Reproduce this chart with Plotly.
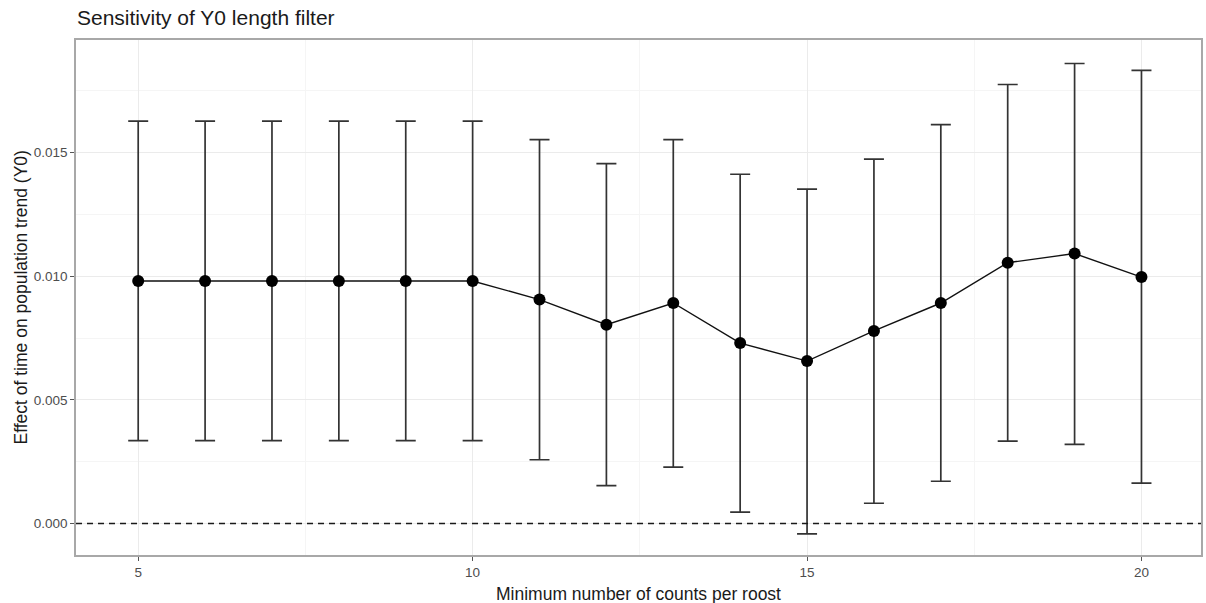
import plotly.graph_objects as go

min_counts = [5, 6, 7, 8, 9, 10, 11, 12, 13, 14, 15, 16, 17, 18, 19, 20]
estimate = [0.00981, 0.00981, 0.00981, 0.00981, 0.00981, 0.00981, 0.00906, 0.00804,
            0.00892, 0.00730, 0.00657, 0.00779, 0.00892, 0.01055, 0.01092, 0.00997]
upper = [0.01628, 0.01628, 0.01628, 0.01628, 0.01628, 0.01628, 0.01553, 0.01456,
         0.01553, 0.01413, 0.01353, 0.01474, 0.01614, 0.01776, 0.01861, 0.01833]
lower = [0.00335, 0.00335, 0.00335, 0.00335, 0.00335, 0.00335, 0.00258, 0.00153,
         0.00228, 0.00046, -0.00042, 0.00082, 0.00171, 0.00333, 0.00320, 0.00163]

err_plus = [u - e for u, e in zip(upper, estimate)]
err_minus = [e - l for e, l in zip(estimate, lower)]

FONT = "Liberation Sans, Arial, sans-serif"

fig = go.Figure()
fig.add_hline(y=0, line=dict(color="#1a1a1a", width=1.6, dash="6px,5px"), layer="above")
fig.add_trace(go.Scatter(
    x=min_counts, y=estimate,
    mode="lines+markers",
    line=dict(color="#111111", width=1.4),
    marker=dict(color="#000000", size=12),
    error_y=dict(type="data", symmetric=False, array=err_plus, arrayminus=err_minus,
                 color="#333333", thickness=1.7, width=10),
    showlegend=False,
))

fig.update_layout(
    width=1206, height=603,
    margin=dict(l=76, r=3, t=40, b=48),
    paper_bgcolor="white", plot_bgcolor="white",
    font=dict(family=FONT, color="#1a1a1a"),
    title=dict(text="Sensitivity of Y0 length filter", x=77/1206, xanchor="left",
               y=1 - 18/603, yanchor="middle", font=dict(size=21, color="#1a1a1a")),
    annotations=[
        dict(text="Minimum number of counts per roost", xref="paper", yref="paper",
             x=0.5, y=0, xanchor="center", yanchor="middle", yshift=-39, showarrow=False,
             font=dict(size=17.5, color="#1a1a1a")),
        dict(text="Effect of time on population trend (Y0)", xref="paper", yref="paper",
             x=0, y=0.5, xanchor="center", yanchor="middle", xshift=-56, textangle=-90,
             showarrow=False, font=dict(size=17.5, color="#1a1a1a")),
    ],
)
fig.update_xaxes(
    range=[4.07, 20.89], tickmode="linear", tick0=0, dtick=5,
    showgrid=True, gridcolor="#ebebeb", gridwidth=1.2,
    minor=dict(showgrid=True, dtick=2.5, tick0=0, gridcolor="#f5f5f5", gridwidth=0.8),
    ticks="outside", ticklen=4, tickcolor="#555555", tickwidth=1,
    tickfont=dict(size=13.5, color="#4d4d4d"),
    showline=True, mirror=True, linecolor="#a8a8a8", linewidth=1.5,
    zeroline=False,
)
fig.update_yaxes(
    range=[-0.001274, 0.01956], tickmode="linear", tick0=0, dtick=0.005, tickformat=".3f",
    showgrid=True, gridcolor="#ebebeb", gridwidth=1.2,
    minor=dict(showgrid=True, dtick=0.0025, tick0=0, gridcolor="#f5f5f5", gridwidth=0.8),
    ticks="outside", ticklen=4, tickcolor="#555555", tickwidth=1,
    tickfont=dict(size=13.5, color="#4d4d4d"),
    showline=True, mirror=True, linecolor="#a8a8a8", linewidth=1.5,
    zeroline=False,
)

fig.write_html("out.html")
